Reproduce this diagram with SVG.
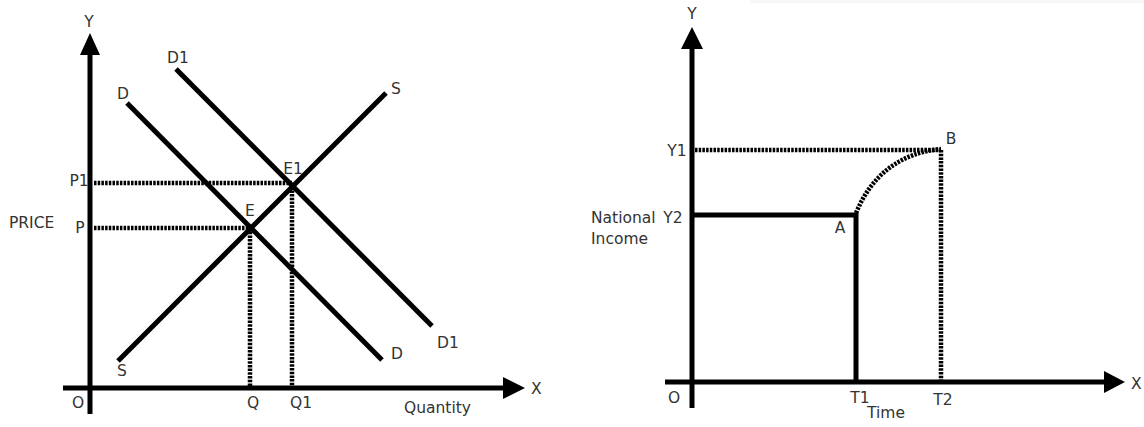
<svg xmlns="http://www.w3.org/2000/svg" width="1144" height="427" viewBox="0 0 1144 427">
<style>
text{font-family:"DejaVu Sans","Liberation Sans",sans-serif;font-size:15.5px;fill:#333}
.ax{stroke:#000;stroke-width:5;fill:none}
.sol{stroke:#000;stroke-width:5;fill:none;stroke-linecap:butt}
.dot{stroke:#000;stroke-width:4.5;fill:none;stroke-dasharray:2.5 1.2}
.m{text-anchor:middle}
</style>
<rect width="1144" height="427" fill="#fff"/>
<rect x="750" y="0" width="394" height="3" fill="#f6f6f6"/>
<g id="left-chart">
  <g id="left-axes">
    <line class="ax" x1="90" y1="50" x2="90" y2="414"/>
    <polygon points="90,33 80,55 100,55" fill="#000"/>
    <line class="ax" x1="63" y1="388" x2="506" y2="388"/>
    <polygon points="525,388 503,377 503,399" fill="#000"/>
    <text class="m" x="89" y="27">Y</text>
    <text x="531" y="394">X</text>
    <text class="m" x="78" y="408">O</text>
    <text x="404" y="413">Quantity</text>
    <text x="9" y="228">PRICE</text>
  </g>
  <g id="connectors-left">
    <line class="dot" x1="94" y1="183" x2="292" y2="183"/>
    <line class="dot" x1="94" y1="228" x2="250" y2="228"/>
    <line class="dot" x1="250" y1="228" x2="250" y2="388"/>
    <line class="dot" x1="292" y1="183" x2="292" y2="388"/>
  </g>
  <g id="curve-D1">
    <line class="sol" x1="176" y1="69" x2="432" y2="326"/>
    <text class="m" x="178" y="63">D1</text>
    <text class="m" x="448" y="348">D1</text>
  </g>
  <g id="curve-D">
    <line class="sol" x1="127" y1="103" x2="382" y2="360"/>
    <text class="m" x="123" y="99">D</text>
    <text class="m" x="397" y="359">D</text>
  </g>
  <g id="curve-S">
    <line class="sol" x1="118" y1="361" x2="386" y2="93"/>
    <text class="m" x="122" y="376">S</text>
    <text class="m" x="396" y="94">S</text>
  </g>
  <g id="point-E"><text class="m" x="250" y="216">E</text></g>
  <g id="point-E1"><text class="m" x="293" y="174">E1</text></g>
  <g id="label-P"><text class="m" x="80" y="233">P</text></g>
  <g id="label-P1"><text class="m" x="79" y="186">P1</text></g>
  <g id="label-Q"><text class="m" x="253" y="408">Q</text></g>
  <g id="label-Q1"><text class="m" x="301" y="408">Q1</text></g>
</g>
<g id="right-chart">
  <g id="right-axes">
    <line class="ax" x1="692" y1="44" x2="692" y2="408"/>
    <polygon points="692,27 681,49 703,49" fill="#000"/>
    <line class="ax" x1="665" y1="382" x2="1107" y2="382"/>
    <polygon points="1125,382 1104,371 1104,393" fill="#000"/>
    <text class="m" x="692" y="19">Y</text>
    <text x="1131" y="389">X</text>
    <text class="m" x="674" y="403">O</text>
    <text class="m" x="886" y="418">Time</text>
    <text x="591" y="223">National</text>
    <text x="591" y="244">Income</text>
  </g>
  <g id="connectors-right">
    <path class="sol" d="M692,215 H856 V382"/>
    <line class="dot" x1="695" y1="150" x2="941" y2="150"/>
    <line class="dot" x1="941" y1="150" x2="941" y2="382"/>
    <path class="dot" d="M856,213 Q880,155 941,149"/>
  </g>
  <g id="point-A"><text class="m" x="840" y="233">A</text></g>
  <g id="point-B"><text class="m" x="951" y="144">B</text></g>
  <g id="label-Y1"><text class="m" x="677" y="156">Y1</text></g>
  <g id="label-Y2"><text class="m" x="673" y="223">Y2</text></g>
  <g id="label-T1"><text class="m" x="860" y="403">T1</text></g>
  <g id="label-T2"><text class="m" x="943" y="405">T2</text></g>
</g>
</svg>
